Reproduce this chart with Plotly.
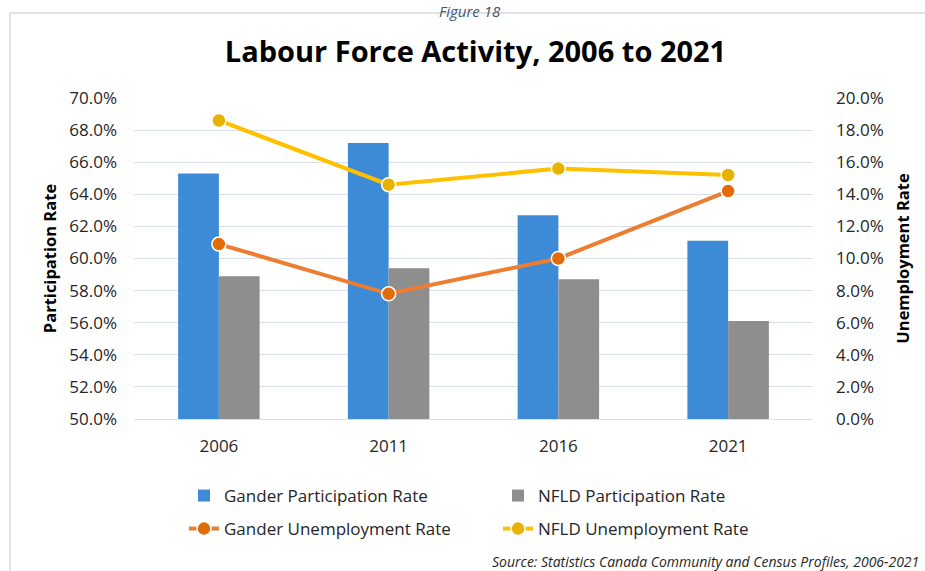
import plotly.graph_objects as go

years = ["2006", "2011", "2016", "2021"]
gander_part = [65.3, 67.2, 62.7, 61.1]
nfld_part = [58.9, 59.4, 58.7, 56.1]
gander_unemp = [10.9, 7.8, 10.0, 14.2]
nfld_unemp = [18.6, 14.6, 15.6, 15.2]

W, H = 925, 571
L, R, T, B = 134, 112, 98, 152
PW, PH = W - L - R, H - T - B

def px(x):
    return (x - L) / PW

def py(y):
    return (H - B - y) / PH

font = "Open Sans"

fig = go.Figure()
fig.add_trace(go.Bar(x=years, y=[v - 50 for v in gander_part], base=50,
                     name="Gander Participation Rate",
                     marker=dict(color="#3D8BD6", line=dict(width=0)),
                     legend="legend"))
fig.add_trace(go.Bar(x=years, y=[v - 50 for v in nfld_part], base=50,
                     name="NFLD Participation Rate",
                     marker=dict(color="#8E8E8E", line=dict(width=0)),
                     legend="legend"))
fig.add_trace(go.Scatter(x=years, y=gander_unemp, yaxis="y2", mode="lines+markers",
                         name="Gander Unemployment Rate",
                         line=dict(color="#ED7D31", width=4),
                         marker=dict(size=14, color="#E36C0A", line=dict(color="white", width=1.5)),
                         legend="legend2"))
fig.add_trace(go.Scatter(x=years, y=nfld_unemp, yaxis="y2", mode="lines+markers",
                         name="NFLD Unemployment Rate",
                         line=dict(color="#FFC000", width=4),
                         marker=dict(size=14, color="#E8B200", line=dict(color="white", width=1.5)),
                         legend="legend2"))

tickfont = dict(size=17, color="#262626")
legfont = dict(size=17, color="#262626")
fig.update_layout(
    width=W, height=H,
    margin=dict(l=L, r=R, t=T, b=B),
    paper_bgcolor="white", plot_bgcolor="white",
    font=dict(family=font, size=17, color="#262626"),
    barmode="group", bargap=0.52, bargroupgap=0,
    showlegend=True,
    title=dict(text="<b>Labour Force Activity, 2006 to 2021</b>", xref="container",
               x=475.5 / W, xanchor="center",
               y=1 - 52 / H, yanchor="middle",
               font=dict(family=font, size=29, color="#000000")),
    xaxis=dict(showgrid=False, ticks="", showline=True, linecolor="#D9DEE8", linewidth=1,
               ticklabelstandoff=12, tickfont=tickfont),
    yaxis=dict(range=[50, 70], dtick=2, tickformat=".1f", ticksuffix="%",
               gridcolor="#D9DEE8", gridwidth=1.2, zeroline=False, showline=False,
               ticks="", ticklabelstandoff=16, tickfont=tickfont,
               title=dict(text="<b>Participation Rate</b>", standoff=8,
                          font=dict(size=16.5, color="#000000"))),
    yaxis2=dict(range=[0, 20], dtick=2, tickformat=".1f", ticksuffix="%",
                overlaying="y", side="right", showgrid=False, zeroline=False,
                ticks="", ticklabelstandoff=22, tickfont=tickfont,
                title=dict(text="<b>Unemployment Rate</b>", standoff=14,
                           font=dict(size=16.5, color="#000000"))),
    legend=dict(orientation="h", x=px(184), y=py(496), xanchor="left", yanchor="middle",
                entrywidth=269, entrywidthmode="pixels", font=legfont,
                itemwidth=30, bgcolor="rgba(0,0,0,0)"),
    legend2=dict(orientation="h", x=px(184), y=py(529), xanchor="left", yanchor="middle",
                 entrywidth=269, entrywidthmode="pixels", font=legfont,
                 itemwidth=30, bgcolor="rgba(0,0,0,0)"),
    shapes=[dict(type="rect", xref="paper", yref="paper",
                 x0=px(10), x1=px(940), y0=py(13), y1=py(590),
                 line=dict(color="#D5DAE2", width=1.5), fillcolor="rgba(0,0,0,0)", layer="below")],
    annotations=[
        dict(text="<i>Figure 18</i>", xref="paper", yref="paper", x=px(470), y=py(11),
             xanchor="center", yanchor="middle", showarrow=False,
             font=dict(family=font, size=15, color="#44546A")),
        dict(text="<i>Source: Statistics Canada Community and Census Profiles, 2006-2021</i>",
             xref="paper", yref="paper", x=px(921), y=py(561), xanchor="right", yanchor="middle",
             showarrow=False, font=dict(family=font, size=14, color="#262626")),
    ],
)

fig.write_html("out.html")
